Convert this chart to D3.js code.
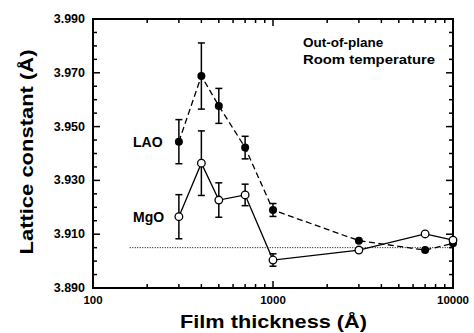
<!DOCTYPE html>
<html>
<head>
<meta charset="utf-8">
<script src="https://cdn.jsdelivr.net/npm/d3@7"></script>
<style>
  body { margin: 0; background: #fff; }
  svg { display: block; font-family: "Liberation Sans", Arial, sans-serif; }
</style>
</head>
<body>
<div id="chart"></div>
<script>
const thickness = [300, 400, 500, 700, 1000, 3000, 7000, 10000];
const laoValues = [3.9444, 3.9688, 3.9577, 3.9422, 3.9190, 3.9076, 3.9041, 3.9066];
const laoErrors = [0.0082, 0.0123, 0.0065, 0.0042, 0.0024, 0, 0, 0];
const mgoValues = [3.9165, 3.9364, 3.9227, 3.9246, 3.9004, 3.9041, 3.9101, 3.9078];
const mgoErrors = [0.0082, 0.0120, 0.0064, 0.0040, 0.0023, 0, 0, 0];
const bulkValue = 3.9050;
const bulkRange = [160, 10000];
const yTicks = [3.890, 3.910, 3.930, 3.950, 3.970, 3.990];
const xTicks = [100, 1000, 10000];

const width = 474, height = 333;
const margin = { top: 19, right: 21, bottom: 45, left: 93 };
const innerWidth = width - margin.left - margin.right;
const innerHeight = height - margin.top - margin.bottom;

const svg = d3.select("#chart").append("svg")
  .attr("width", width)
  .attr("height", height);

const g = svg.append("g")
  .attr("transform", `translate(${margin.left},${margin.top})`);

const x = d3.scaleLog().domain([100, 10000]).range([0, innerWidth]);
const y = d3.scaleLinear().domain([3.890, 3.990]).range([innerHeight, 0]);

const xMinor = [];
[100, 1000].forEach(b => { for (let k = 2; k <= 9; k++) xMinor.push(b * k); });
const yMinor = d3.range(0, 21).map(i => 3.890 + i * 0.005).filter(v => !yTicks.some(t => Math.abs(t - v) < 1e-9));

// frame ticks (inward) on all four sides
function tickMarks(sel, axis, values, len) {
  values.forEach(v => {
    if (axis === "x") {
      sel.append("line").attr("x1", x(v)).attr("x2", x(v)).attr("y1", innerHeight).attr("y2", innerHeight - len);
      sel.append("line").attr("x1", x(v)).attr("x2", x(v)).attr("y1", 0).attr("y2", len);
    } else {
      sel.append("line").attr("y1", y(v)).attr("y2", y(v)).attr("x1", 0).attr("x2", len);
      sel.append("line").attr("y1", y(v)).attr("y2", y(v)).attr("x1", innerWidth).attr("x2", innerWidth - len);
    }
  });
}
const ticks = g.append("g").attr("stroke", "#000").attr("stroke-width", 1.5);
tickMarks(ticks, "x", xTicks, 7);
tickMarks(ticks, "x", xMinor, 4);
tickMarks(ticks, "y", yTicks, 7);
tickMarks(ticks, "y", yMinor, 4);

g.append("rect")
  .attr("width", innerWidth)
  .attr("height", innerHeight)
  .attr("fill", "none")
  .attr("stroke", "#000")
  .attr("stroke-width", 2);

// tick labels
g.selectAll(".ylab")
  .data(yTicks)
  .enter().append("text")
  .attr("x", -8)
  .attr("y", d => y(d) + 4)
  .attr("text-anchor", "end")
  .attr("font-size", 12.5)
  .attr("font-weight", "bold")
  .text(d => d3.format(".3f")(d));

g.selectAll(".xlab")
  .data(xTicks)
  .enter().append("text")
  .attr("x", d => x(d))
  .attr("y", innerHeight + 16)
  .attr("text-anchor", "middle")
  .attr("font-size", 11.5)
  .attr("font-weight", "bold")
  .text(d => d);

// axis titles
svg.append("text")
  .attr("x", 273.5)
  .attr("y", 328)
  .attr("text-anchor", "middle")
  .attr("font-size", 19)
  .attr("font-weight", "bold")
  .attr("textLength", 187)
  .attr("lengthAdjust", "spacingAndGlyphs")
  .text("Film thickness (Å)");

svg.append("text")
  .attr("transform", "translate(33,152) rotate(-90)")
  .attr("text-anchor", "middle")
  .attr("font-size", 19)
  .attr("font-weight", "bold")
  .attr("textLength", 205)
  .attr("lengthAdjust", "spacingAndGlyphs")
  .text("Lattice constant (Å)");

// bulk reference line
g.append("line")
  .attr("x1", x(bulkRange[0]))
  .attr("x2", x(bulkRange[1]))
  .attr("y1", y(bulkValue))
  .attr("y2", y(bulkValue))
  .attr("stroke", "#000")
  .attr("stroke-width", 1)
  .attr("stroke-dasharray", "1,1.5");

const lao = thickness.map((t, i) => ({ t, v: laoValues[i], e: laoErrors[i] }));
const mgo = thickness.map((t, i) => ({ t, v: mgoValues[i], e: mgoErrors[i] }));

const line = d3.line().x(d => x(d.t)).y(d => y(d.v));

g.append("path")
  .datum(lao)
  .attr("fill", "none")
  .attr("stroke", "#000")
  .attr("stroke-width", 1.3)
  .attr("stroke-dasharray", "6,3.5")
  .attr("d", line);

g.append("path")
  .datum(mgo)
  .attr("fill", "none")
  .attr("stroke", "#000")
  .attr("stroke-width", 1.3)
  .attr("d", line);

function errorBars(data) {
  const eb = g.append("g").attr("stroke", "#000").attr("stroke-width", 1.5);
  data.filter(d => d.e > 0).forEach(d => {
    const cx = x(d.t);
    eb.append("line").attr("x1", cx).attr("x2", cx).attr("y1", y(d.v + d.e)).attr("y2", y(d.v - d.e));
    eb.append("line").attr("x1", cx - 3.5).attr("x2", cx + 3.5).attr("y1", y(d.v + d.e)).attr("y2", y(d.v + d.e));
    eb.append("line").attr("x1", cx - 3.5).attr("x2", cx + 3.5).attr("y1", y(d.v - d.e)).attr("y2", y(d.v - d.e));
  });
}
errorBars(lao);
errorBars(mgo);

g.selectAll(".lao")
  .data(lao)
  .enter().append("circle")
  .attr("cx", d => x(d.t))
  .attr("cy", d => y(d.v))
  .attr("r", 4)
  .attr("fill", "#000");

g.selectAll(".mgo")
  .data(mgo)
  .enter().append("circle")
  .attr("cx", d => x(d.t))
  .attr("cy", d => y(d.v))
  .attr("r", 3.8)
  .attr("fill", "#fff")
  .attr("stroke", "#000")
  .attr("stroke-width", 1.3);

// annotations
const note = svg.append("g").attr("font-size", 13.5).attr("font-weight", "bold");
note.append("text").attr("x", 303).attr("y", 47).text("Out-of-plane");
note.append("text").attr("x", 303).attr("y", 64).attr("textLength", 132)
  .attr("lengthAdjust", "spacingAndGlyphs").text("Room temperature");
note.append("text").attr("x", 133).attr("y", 147).attr("font-size", 14).text("LAO");
note.append("text").attr("x", 133).attr("y", 222).attr("font-size", 14).text("MgO");
</script>
</body>
</html>
